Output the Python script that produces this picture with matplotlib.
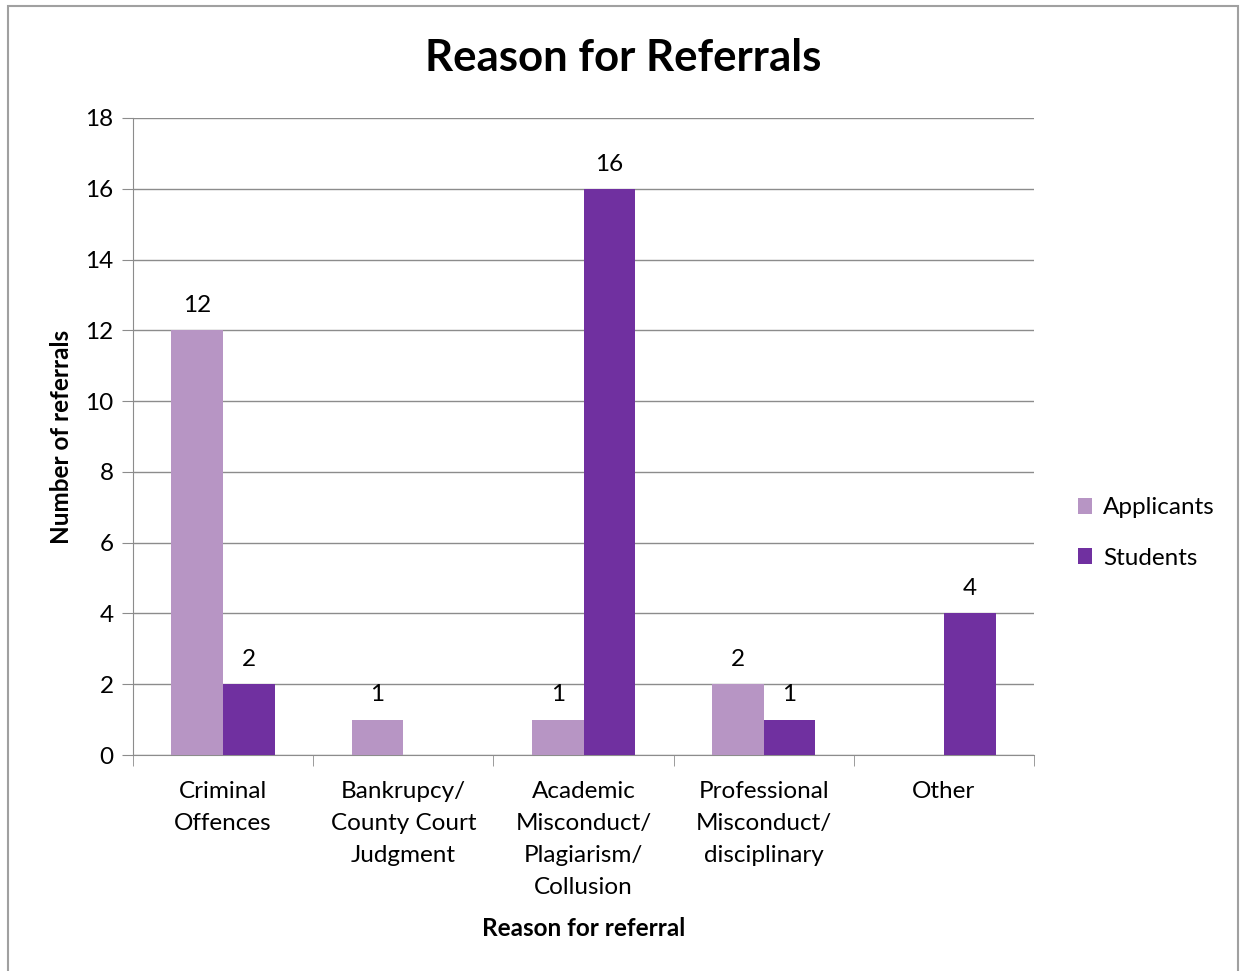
import matplotlib
matplotlib.use("Agg")
import matplotlib.pyplot as plt
import numpy as np
from matplotlib.patches import Rectangle

categories = ["Criminal\nOffences", "Bankrupcy/\nCounty Court\nJudgment",
              "Academic\nMisconduct/\nPlagiarism/\nCollusion",
              "Professional\nMisconduct/\ndisciplinary", "Other"]
applicants = [12, 1, 1, 2, 0]
students = [2, 0, 16, 1, 4]
series_names = ["Applicants", "Students"]
colors = ["#B795C4", "#7030A0"]
yticks = [0, 2, 4, 6, 8, 10, 12, 14, 16, 18]

plt.rcParams['font.family'] = ['Lato', 'DejaVu Sans']
FS = 17.5

fig = plt.figure(figsize=(12.44, 9.71), dpi=100)
fig.patches.append(Rectangle((8/1244, -0.01), 1230/1244, 1 - 6/971 + 0.01,
                             transform=fig.transFigure, fill=False,
                             edgecolor="#A0A0A0", linewidth=1.5))
ax = fig.add_axes([133/1244, 1 - 755/971, 901/1244, 637/971])

x = np.arange(len(categories))
w = 0.287
for i, (vals, name, c) in enumerate(zip([applicants, students], series_names, colors)):
    offs = (i - 0.5) * w
    ax.bar(x + offs, vals, width=w, color=c, label=name, zorder=3)
    for xi, v in zip(x, vals):
        if v > 0:
            ax.text(xi + offs, v + 0.4, str(v), ha="center", va="bottom", fontsize=FS)

ax.set_xlim(-0.5, len(categories) - 0.5)
ax.set_ylim(0, 18)
ax.set_yticks(yticks)
ax.yaxis.grid(True, color="#8C8C8C", linewidth=1, zorder=0)
ax.set_axisbelow(True)
for s in ["top", "right"]:
    ax.spines[s].set_visible(False)
ax.spines["left"].set_color("#8C8C8C")
ax.spines["bottom"].set_color("#8C8C8C")
ax.tick_params(axis="y", labelsize=FS, length=8, color="#8C8C8C", direction="out", pad=6)
ax.set_xticks(x)
ax.set_xticklabels(categories, fontsize=FS, linespacing=1.63, va="top")
ax.set_xticks(np.arange(-0.5, len(categories)), minor=True)
ax.tick_params(axis="x", which="major", length=0, pad=19)
ax.tick_params(axis="x", which="minor", length=8, color="#8C8C8C")

ax.set_xlabel("Reason for referral", fontsize=FS, fontweight="bold", labelpad=14)
ax.set_ylabel("Number of referrals", fontsize=FS, fontweight="bold", labelpad=9)
fig.text(623/1244, 1 - 58/971, "Reason for Referrals", ha="center", va="center",
         fontsize=31.5, fontweight="bold")

fig.legend(loc="center left", bbox_to_anchor=(1056/1244, 1 - 533/971),
           frameon=False, fontsize=FS, handlelength=0.6, handleheight=0.6,
           handletextpad=0.45, labelspacing=1.2)

fig.savefig("out.png", dpi=100)
